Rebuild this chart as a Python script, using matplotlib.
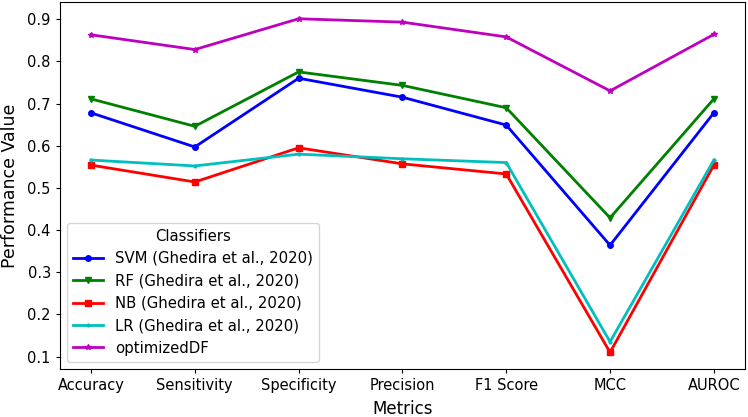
import matplotlib.pyplot as plt

metrics = ['Accuracy', 'Sensitivity', 'Specificity', 'Precision', 'F1 Score', 'MCC', 'AUROC']

svm = [0.678, 0.597, 0.760, 0.715, 0.649, 0.364, 0.678]
rf = [0.711, 0.646, 0.775, 0.743, 0.690, 0.429, 0.711]
nb = [0.554, 0.514, 0.595, 0.557, 0.533, 0.110, 0.554]
lr = [0.566, 0.552, 0.580, 0.569, 0.560, 0.135, 0.566]
optimized_df = [0.863, 0.828, 0.901, 0.893, 0.858, 0.730, 0.864]

series = [
    ('SVM (Ghedira et al., 2020)', svm, 'b', 'o'),
    ('RF (Ghedira et al., 2020)', rf, 'g', 'v'),
    ('NB (Ghedira et al., 2020)', nb, 'r', 's'),
    ('LR (Ghedira et al., 2020)', lr, 'c', '.'),
    ('optimizedDF', optimized_df, 'm', '*'),
]

fig = plt.figure(figsize=(7.48, 4.17), dpi=100)
ax = fig.add_subplot(111)
fig.subplots_adjust(left=0.080, right=0.996, top=0.995, bottom=0.115)

for label, values, color, marker in series:
    ax.plot(metrics, values, color=color, marker=marker, markersize=4, linewidth=2, label=label)

ax.set_xlabel('Metrics', fontsize=12, labelpad=5)
ax.set_ylabel('Performance Value', fontsize=12.5, labelpad=6)
ax.tick_params(labelsize=10.5, length=3)
ax.legend(title='Classifiers', loc='lower left', fontsize=10.7, title_fontsize=10.7)

plt.savefig('out.png', dpi=100)
